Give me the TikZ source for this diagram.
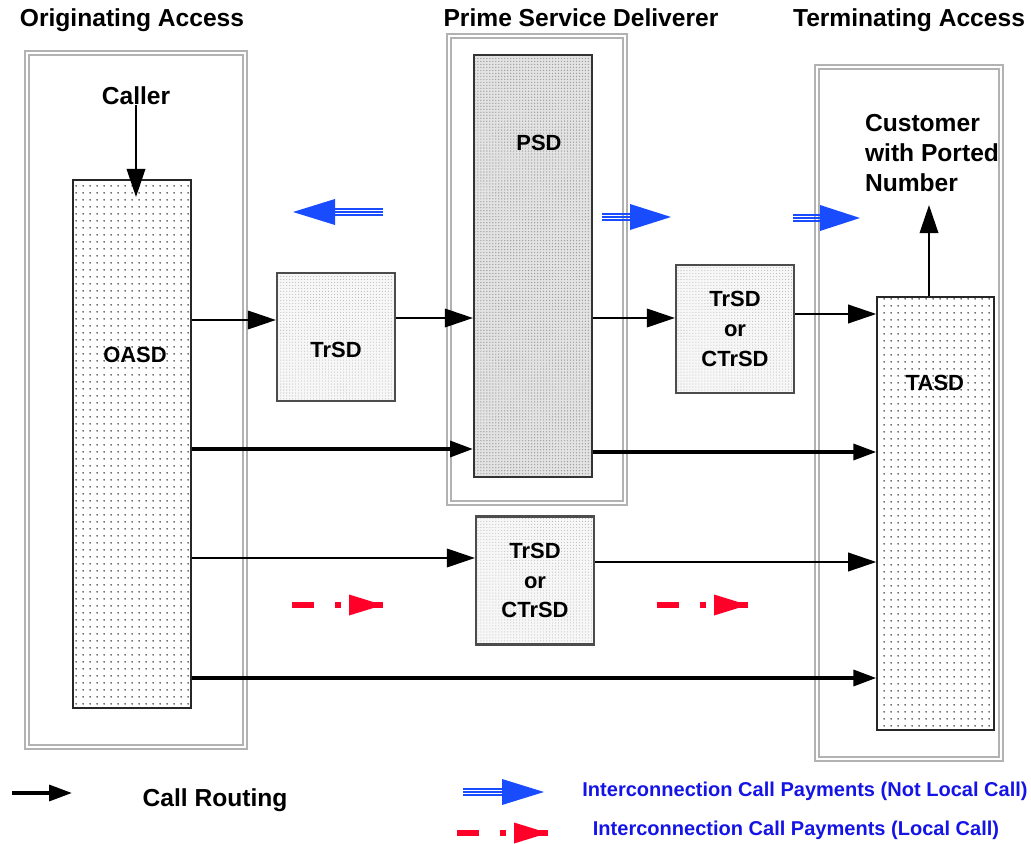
\documentclass[tikz,border=0pt]{standalone}
\usepackage{fontspec}
\setmainfont{Liberation Sans}
\usetikzlibrary{arrows.meta,patterns.meta,calc,positioning}
\definecolor{paycol}{RGB}{25,75,255}
\definecolor{localcol}{RGB}{255,0,40}
\definecolor{legendblue}{RGB}{20,20,230}
\tikzset{every node/.style={inner sep=0pt,font=\bfseries\fontsize{14}{17}\selectfont}}
\tikzset{access/.style={draw=gray!60,line width=0.9pt,double=white,double distance=1.3pt}}
\tikzset{tag/.style={font=\bfseries\fontsize{12.5}{17}\selectfont,align=center}}
\tikzset{legendtext/.style={text=legendblue,font=\bfseries\fontsize{11.4}{14}\selectfont}}
\tikzset{sparse/.style={draw=black!85,line width=0.8pt,pattern={Dots[distance=4pt,radius=0.55pt]},pattern color=black!75}}
\tikzset{psdbox/.style={draw=black!80,line width=1.2pt,preaction={fill=gray!22},pattern={Dots[distance=1.7pt,radius=0.4pt]},pattern color=gray!75}}
\tikzset{transit/.style={draw=black!70,line width=1.2pt,preaction={fill=gray!6},pattern={Dots[distance=1.7pt,radius=0.3pt]},pattern color=gray!55,minimum width=2.36cm,minimum height=2.56cm}}
\tikzset{route/.style={draw=black,line width=1.3pt,-{Triangle[length=16pt,width=10.5pt]}}}
\tikzset{trunk/.style={draw=black,line width=2.1pt,-{Triangle[length=13pt,width=9pt]}}}
\tikzset{payline/.style={draw=paycol,line width=1pt}}
\tikzset{localline/.style={draw=localcol,line width=3.2pt}}

\begin{document}
\begin{tikzpicture}[x=0.02cm,y=-0.02cm]
    \useasboundingbox (0,0) rectangle (1031,844);

    % blue triple arrow: #1 shaft end, #2 head base, #3 tip
    \newcommand{\notlocal}[3]{
        \foreach \dy in {-3.2,0,3.2}
            \draw[payline] ($#1+(0,\dy)$) -- ($#2+(0,\dy)$);
        \fill[paycol] ($#2+(0,-13)$) -- #3 -- ($#2+(0,13)$) -- cycle;
    }
    % red dash-dot arrow starting at #1
    \newcommand{\localpay}[1]{
        \draw[localline] #1 -- ($#1+(22,0)$);
        \draw[localline] ($#1+(43,0)$) -- ($#1+(49,0)$);
        \draw[localline] ($#1+(57,0)$) -- ($#1+(91,0)$);
        \fill[localcol] ($#1+(57,-10.5)$) -- ($#1+(91,0)$) -- ($#1+(57,10.5)$) -- cycle;
    }

    % access frames
    \draw[access] (27,53) rectangle (245,747);
    \draw[access] (449,36) rectangle (625,503);
    \draw[access] (817,67) rectangle (1001,759);

    \node (origtitle) at (132,20) {Originating Access};
    \node (primetitle) at (581,18) {Prime Service Deliverer};
    \node (termtitle) at (909,20) {Terminating Access};

    % service deliverers
    \node[sparse,minimum width=2.36cm,minimum height=10.56cm] (oasd) at (132,444) {};
    \node[psdbox,minimum width=2.36cm,minimum height=8.44cm] (psd) at (533,266) {};
    \node[sparse,minimum width=2.34cm,minimum height=8.66cm] (tasd) at (935.5,513.5) {};
    \node[tag] (oasdname) at (135,355) {OASD};
    \node[tag] (psdname) at (539,143) {PSD};
    \node[tag] (tasdname) at (935,383) {TASD};

    \node[transit] (trsdA) at (336,337) {};
    \node[tag] (trsdAname) at (336,350) {TrSD};
    \node[transit,tag] (trsdB) at (735,329) {TrSD\\or\\CTrSD};
    \node[transit,tag] (trsdC) at (535,580.5) {TrSD\\or\\CTrSD};

    \node (caller) at (136,96) {Caller};
    \node[align=left] (cust) at (932,153) {Customer\\with Ported\\Number};
    \coordinate (custtip) at (929,205);

    % call routing
    \draw[route] (caller.south) -- (caller.south |- 0,197);
    \draw[route] (tasd.north -| 929,0) -- (custtip);
    \draw[route] (oasd.east |- 0,320) -- (trsdA.west |- 0,320);
    \draw[route] (trsdA.east |- 0,318) -- (psd.west |- 0,318);
    \draw[route] (psd.east |- 0,318) -- (trsdB.west |- 0,318);
    \draw[route] (trsdB.east |- 0,314) -- (tasd.west |- 0,314);
    \draw[trunk] (oasd.east |- 0,449) -- (psd.west |- 0,449);
    \draw[trunk] (psd.east |- 0,452) -- (tasd.west |- 0,452);
    \draw[route] (oasd.east |- 0,558) -- (trsdC.west |- 0,558);
    \draw[route] (trsdC.east |- 0,562) -- (tasd.west |- 0,562);
    \draw[trunk] (oasd.east |- 0,678) -- (tasd.west |- 0,678);

    % payments
    \coordinate (payA) at (383,212);
    \coordinate (payAbase) at (335,212);
    \coordinate (payAtip) at (293,212);
    \notlocal{(payA)}{(payAbase)}{(payAtip)}
    \coordinate (payB) at (602,217);
    \coordinate (payBbase) at (630,217);
    \coordinate (payBtip) at (671,217);
    \notlocal{(payB)}{(payBbase)}{(payBtip)}
    \coordinate (payC) at (793,218);
    \coordinate (payCbase) at (820,218);
    \coordinate (payCtip) at (860,218);
    \notlocal{(payC)}{(payCbase)}{(payCtip)}
    \coordinate (locA) at (292,605);
    \localpay{(locA)}
    \coordinate (locB) at (657,605);
    \localpay{(locB)}

    % legend
    \coordinate (keyroute) at (12,793);
    \coordinate (keyroutetip) at (72,793);
    \draw[trunk] (keyroute) -- (keyroutetip);
    \node (keyroutetext) at (215,800) {Call Routing};
    \coordinate (keypay) at (463,792);
    \coordinate (keypaybase) at (502,792);
    \coordinate (keypaytip) at (544,792);
    \notlocal{(keypay)}{(keypaybase)}{(keypaytip)}
    \node[legendtext] (keypaytext) at (805,791) {Interconnection Call Payments (Not Local Call)};
    \coordinate (keyloc) at (457,833);
    \localpay{(keyloc)}
    \node[legendtext] (keyloctext) at (796,830) {Interconnection Call Payments (Local Call)};
\end{tikzpicture}
\end{document}
